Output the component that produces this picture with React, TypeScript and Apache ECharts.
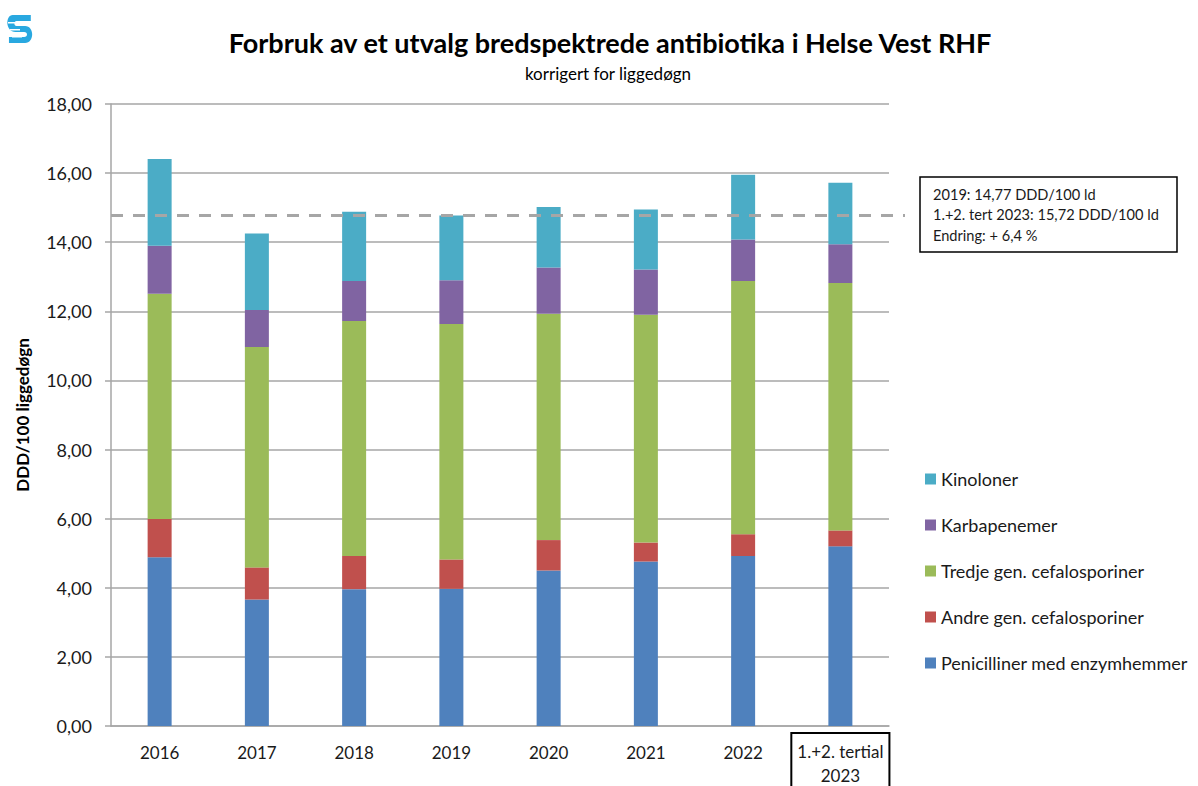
import React, { useEffect, useRef } from "react";
import * as echarts from "echarts";

const categories = ["2016", "2017", "2018", "2019", "2020", "2021", "2022", "1.+2. tertial\n2023"];
const penicilliner = [4.88, 3.66, 3.96, 3.97, 4.5, 4.76, 4.92, 5.2];
const andreGen = [1.11, 0.93, 0.96, 0.85, 0.88, 0.55, 0.63, 0.46];
const tredjeGen = [6.52, 6.38, 6.8, 6.81, 6.55, 6.59, 7.33, 7.16];
const karbapenemer = [1.39, 1.07, 1.16, 1.27, 1.34, 1.31, 1.2, 1.12];
const kinoloner = [2.51, 2.21, 2.0, 1.87, 1.75, 1.74, 1.87, 1.78];
const referenceValue = 14.77;
const yTicks = { min: 0, max: 18, interval: 2 };
const boxLines = ["2019: 14,77 DDD/100 ld", "1.+2. tert 2023: 15,72 DDD/100 ld", "Endring: + 6,4 %"];

const FONT = "Lato, 'Open Sans', sans-serif";
const colors = {
  pen: "#4F81BD",
  andre: "#C0504D",
  tredje: "#9BBB59",
  karb: "#8064A2",
  kin: "#4BACC6",
};

const logoPath =
  "M5 0 H24 V6 H9 C6 6 6 11 9 11 H18 C28 11 28 28 18 28 H1 V22 H17 C21 22 21 17 17 17 H8 C-3 17 -3 0 5 0 Z";

export default function App() {
  const ref = useRef<HTMLDivElement>(null);
  useEffect(() => {
    if (!ref.current) return;
    try {
      echarts.graphic.registerShape("logo", echarts.graphic.extendPath(logoPath as any, {}) as any);
    } catch (e) {}
    const chart = echarts.init(ref.current, null, { renderer: "svg" });
    const gridLeft = 111;
    const gridRight = 309;
    const gridTop = 104;
    const gridBottom = 60;
    const mk = (name: string, data: number[], color: string) => ({
      name,
      type: "bar",
      stack: "total",
      barWidth: 24,
      data,
      itemStyle: { color },
      emphasis: { disabled: true },
    });
    const option: any = {
      animation: false,
      textStyle: { fontFamily: FONT },
      title: [
        {
          text: "Forbruk av et utvalg bredspektrede antibiotika i Helse Vest RHF",
          left: 605,
          top: 24,
          textAlign: "center",
          textStyle: { fontFamily: FONT, fontSize: 27, fontWeight: "bold", color: "#000" },
        },
        {
          text: "korrigert for liggedøgn",
          left: 603,
          top: 60,
          textAlign: "center",
          textStyle: { fontFamily: FONT, fontSize: 17, fontWeight: "normal", color: "#000" },
        },
      ],
      grid: {
        left: gridLeft,
        right: gridRight,
        top: gridTop,
        bottom: gridBottom,
        containLabel: false,
        outerBoundsMode: "none",
      },
      legend: {
        orient: "vertical",
        left: 920,
        top: 465,
        itemWidth: 11,
        itemHeight: 11,
        itemGap: 28,
        icon: "rect",
        data: ["Kinoloner", "Karbapenemer", "Tredje gen. cefalosporiner", "Andre gen. cefalosporiner", "Penicilliner med enzymhemmer"],
        textStyle: { fontFamily: FONT, fontSize: 18, color: "#1a1a1a", lineHeight: 18 },
        selectedMode: false,
      },
      xAxis: {
        type: "category",
        data: categories.map((c, i) =>
          i === categories.length - 1
            ? {
                value: c,
                textStyle: { borderColor: "#000", borderWidth: 2, lineHeight: 24, padding: [6, 6, 12, 6] },
              }
            : c
        ),
        axisLine: { lineStyle: { color: "#A6A6A6", width: 1.5 } },
        axisTick: { show: false },
        axisLabel: { fontFamily: FONT, fontSize: 17, color: "#1a1a1a", lineHeight: 38, margin: 7, interval: 0 },
      },
      yAxis: {
        type: "value",
        min: yTicks.min,
        max: yTicks.max,
        interval: yTicks.interval,
        name: "DDD/100 liggedøgn",
        nameLocation: "middle",
        nameRotate: 90,
        nameGap: 80,
        nameTextStyle: { fontFamily: FONT, fontSize: 17, fontWeight: "bold", color: "#000" },
        axisLine: { show: true, lineStyle: { color: "#A6A6A6", width: 1.5 } },
        axisTick: { show: true, length: 6, lineStyle: { color: "#A6A6A6", width: 1.5 } },
        axisLabel: {
          fontFamily: FONT,
          fontSize: 18,
          color: "#1a1a1a",
          margin: 19,
          formatter: (v: number) => v.toFixed(2).replace(".", ","),
        },
        splitLine: { lineStyle: { color: "#A6A6A6", width: 1.5 } },
      },
      series: [
        mk("Penicilliner med enzymhemmer", penicilliner, colors.pen),
        mk("Andre gen. cefalosporiner", andreGen, colors.andre),
        mk("Tredje gen. cefalosporiner", tredjeGen, colors.tredje),
        mk("Karbapenemer", karbapenemer, colors.karb),
        mk("Kinoloner", kinoloner, colors.kin),
      ],
    };
    chart.setOption(option);
    const y = chart.convertToPixel({ yAxisIndex: 0 }, referenceValue) as number;
    chart.setOption({
      graphic: [
        {
          type: "line",
          z: 100,
          shape: { x1: gridLeft, y1: y, x2: 905, y2: y },
          style: { stroke: "#A6A6A6", lineWidth: 3, lineDash: [12, 10] },
        },
        {
          type: "rect",
          shape: { x: 920, y: 177, width: 257, height: 75 },
          style: { fill: "#fff", stroke: "#000", lineWidth: 1.5 },
        },
        ...boxLines.map((t, i) => ({
          type: "text",
          x: 933,
          y: 194 + i * 20.5,
          style: { text: t, fontFamily: FONT, fontSize: 14.6, fill: "#1a1a1a", textVerticalAlign: "middle" },
        })),
        {
          type: "logo",
          x: 8,
          y: 15,
          scaleX: 0.95,
          scaleY: 1,
          style: { fill: "#29A8E0" },
        },
        ...[0, 1, 2].map((i) => ({
          type: "rect",
          shape: { x: 8 + i * 2, y: 22 + i * 7, width: 10, height: 1.5 },
          style: { fill: "#ffffff" },
        })),
      ],
    });
    return () => chart.dispose();
  }, []);
  return <div ref={ref} style={{ width: 1198, height: 786, position: "absolute", left: 0, top: 0 }} />;
}
